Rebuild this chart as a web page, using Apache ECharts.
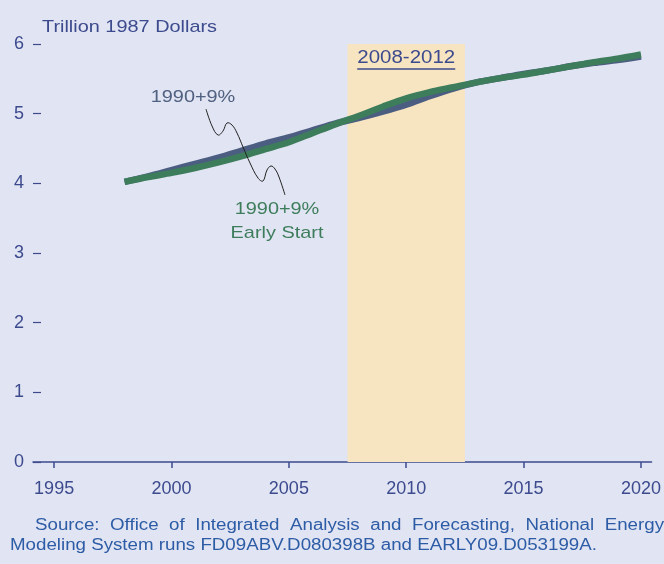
<!DOCTYPE html>
<html>
<head>
<meta charset="utf-8">
<script src="https://cdn.jsdelivr.net/npm/echarts@6/dist/echarts.min.js"></script>
<style>
html,body{margin:0;padding:0;background:#e1e4f2;}
#c{width:664px;height:564px;}
</style>
</head>
<body>
<div id="c"></div>
<script>
// ---- data ----
const years = [1998,1999,2000,2001,2002,2003,2004,2005,2006,2007,2008,2009,2010,2011,2012,2013,2014,2015,2016,2017,2018,2019,2020];
const base9 = [4.02,4.10,4.19,4.28,4.37,4.47,4.57,4.66,4.76,4.86,4.94,5.03,5.13,5.25,5.36,5.45,5.51,5.57,5.62,5.68,5.73,5.77,5.82];
const early9 = [4.02,4.09,4.15,4.22,4.30,4.39,4.49,4.59,4.72,4.85,4.97,5.10,5.22,5.31,5.38,5.45,5.51,5.56,5.62,5.68,5.74,5.79,5.85];
const xTicks = [1995,2000,2005,2010,2015,2020];
const bandRange = [2007.5, 2012.5];
const bandLabel = '2008-2012';
const yTitle = 'Trillion 1987 Dollars';
const seriesNames = ['1990+9%', '1990+9% Early Start'];
const sourceLine1 = ['Source:','Office','of','Integrated','Analysis','and','Forecasting,','National','Energy'];
const sourceLine2 = 'Modeling System runs FD09ABV.D080398B and EARLY09.D053199A.';

const AX = '#3c4a8e';
const BLUE = '#4b5d80';
const GREEN = '#3e7d5c';
const SRC = '#2d5ca6';
const FONT = '"Liberation Sans", Arial, sans-serif';
const SX = 1.17; // horizontal stretch of the reference text

const chart = echarts.init(document.getElementById('c'));

const option = {
  backgroundColor: '#e1e4f2',
  animation: false,
  grid: {left: 33, right: 12, top: 44, bottom: 102},
  xAxis: {
    type: 'value', min: 1994.1, max: 2020.45,
    axisLine: {show: true, lineStyle: {color: AX, width: 1.5}},
    axisTick: {show: true, length: 6, customValues: xTicks, lineStyle: {color: AX, width: 1.5}},
    axisLabel: {customValues: xTicks, margin: 18, color: AX, fontSize: 18, fontFamily: FONT, formatter: v => String(v)},
    splitLine: {show: false}
  },
  yAxis: {
    type: 'value', min: 0, max: 6, interval: 1,
    axisLine: {show: false},
    axisTick: {show: true, inside: true, length: 8, lineStyle: {color: AX, width: 1.2}},
    axisLabel: {margin: 9, color: AX, fontSize: 18, fontFamily: FONT},
    splitLine: {show: false}
  },
  series: [
    {
      name: seriesNames[0], type: 'line', smooth: 0.3, symbol: 'none',
      data: years.map((y,i)=>[y, base9[i]]),
      lineStyle: {color: BLUE, width: 6.5},
      z: 3,
      markArea: {
        silent: true,
        itemStyle: {color: '#f7e5c1'},
        label: {show: false},
        data: [[{xAxis: bandRange[0]}, {xAxis: bandRange[1]}]]
      }
    },
    {
      name: seriesNames[1], type: 'line', smooth: 0.3, symbol: 'none',
      data: years.map((y,i)=>[y, early9[i]]),
      lineStyle: {color: GREEN, width: 6.5},
      z: 4
    }
  ]
};
chart.setOption(option);

const pc = chart.convertToPixel({gridIndex:0}, [(bandRange[0]+bandRange[1])/2, 6]);

function txt(text, x, y, color, size, align) {
  return {type:'text', x: x, y: y, scaleX: SX, z: 20,
    style:{text: text, fill: color, font: size + 'px ' + FONT, align: align || 'left', verticalAlign:'middle'}};
}

const graphics = [
  txt(yTitle, 42, 27, AX, 17),
  txt(bandLabel, pc[0], 58, AX, 17.5, 'center'),
  {type:'line', z: 20, shape:{x1: pc[0]-49, y1: 69, x2: pc[0]+49, y2: 69}, style:{stroke: AX, lineWidth: 1.3}},
  txt('1990+9%', 193, 97, '#4f6080', 17, 'center'),
  txt('1990+9%', 277, 209, GREEN, 17, 'center'),
  txt('Early Start', 277, 233, GREEN, 17, 'center'),
  {type:'polyline', z: 10, shape:{smooth: 0.4, points:[[206,109],[212,126],[218,135],[223,131],[227,123],[232,125],[237,133],[243,147],[250,163],[258,178],[263,181],[267,170],[271,166],[275,169],[279,177],[285,195]]},
   style:{stroke:'#222', lineWidth: 1, fill: null}}
];

// footer line 1: justified between 35 and 664
const cv = document.createElement('canvas').getContext('2d');
cv.font = '16px ' + FONT;
const widths = sourceLine1.map(w => cv.measureText(w).width * SX);
const total = widths.reduce((a,b)=>a+b, 0);
const gap = (664 - 35 - total) / (sourceLine1.length - 1);
let cx = 35;
sourceLine1.forEach((w,i)=>{
  graphics.push(txt(w, cx, 526, SRC, 16));
  cx += widths[i] + gap;
});
graphics.push(txt(sourceLine2, 10, 546, SRC, 16));

chart.setOption({graphic: graphics});
</script>
</body>
</html>
